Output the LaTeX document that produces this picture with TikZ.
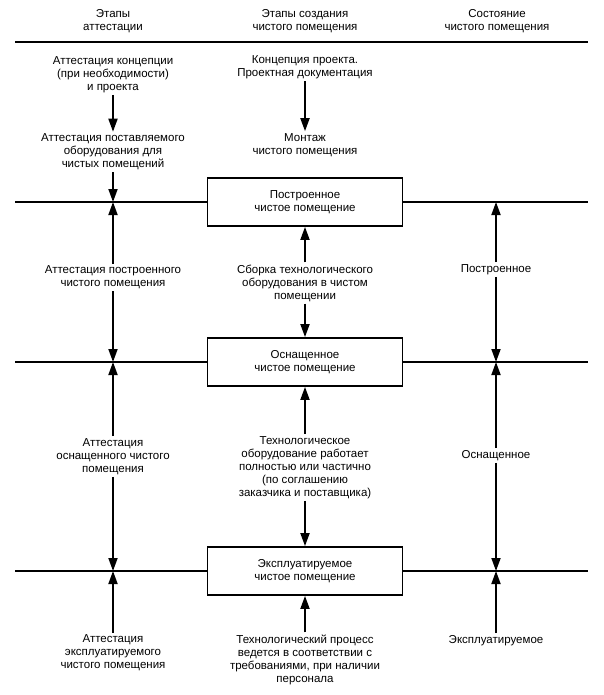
\documentclass[tikz,border=0pt]{standalone}
\usepackage{fontspec}
\setmainfont{Liberation Sans}
\usetikzlibrary{arrows.meta}
\begin{document}
\begin{tikzpicture}[x=1pt,y=-1pt,
  lbl/.style={align=center, font=\fontsize{11.5}{13}\selectfont, inner sep=2pt, yshift=-1.5pt},
  roombox/.style={draw, line width=1.8pt, minimum width=195pt, minimum height=48pt,
    align=center, font=\fontsize{11.5}{13.5}\selectfont, inner sep=0pt},
  arr/.style={line width=1.8pt, -{Triangle[length=13pt,width=9pt]}},
  hline/.style={line width=1.4pt},
  topline/.style={line width=2.2pt}
  ]
\useasboundingbox (0,0) rectangle (603,695);

% headers
\node[lbl] (h1) at (113,19.5) {Этапы\\аттестации};
\node[lbl] (h2) at (305,19.5) {Этапы создания\\чистого помещения};
\node[lbl] (h3) at (497,19.5) {Состояние\\чистого помещения};
\coordinate (t0a) at (15,42);
\coordinate (t0b) at (588,42);
\draw[topline] (t0a) -- (t0b);

% boxes
\node[roombox] (b1) at (305,202) {Построенное\\чистое помещение};
\node[roombox] (b2) at (305,362) {Оснащенное\\чистое помещение};
\node[roombox] (b3) at (305,571) {Эксплуатируемое\\чистое помещение};

% horizontal lines
\coordinate (l1a) at (15,202); \coordinate (l1b) at (588,202);
\coordinate (l2a) at (15,362); \coordinate (l2b) at (588,362);
\coordinate (l3a) at (15,571); \coordinate (l3b) at (588,571);
\draw[hline] (l1a) -- (b1.west); \draw[hline] (b1.east) -- (l1b);
\draw[hline] (l2a) -- (b2.west); \draw[hline] (b2.east) -- (l2b);
\draw[hline] (l3a) -- (b3.west); \draw[hline] (b3.east) -- (l3b);

% crossing points
\coordinate (c1) at (113,202); \coordinate (c2) at (113,362); \coordinate (c3) at (113,571);
\coordinate (c4) at (496,202); \coordinate (c5) at (496,362); \coordinate (c6) at (496,571);

% left column
\node[lbl] (a1) at (113,73) {Аттестация концепции\\(при необходимости)\\и проекта};
\node[lbl] (a2) at (113,150.5) {Аттестация поставляемого\\оборудования для\\чистых помещений};
\node[lbl] (a3) at (113,276) {Аттестация построенного\\чистого помещения};
\node[lbl] (a4) at (113,455) {Аттестация\\оснащенного чистого\\помещения};
\node[lbl] (a5) at (113,651.5) {Аттестация\\эксплуатируемого\\чистого помещения};

\draw[arr] (a1) -- (a2);
\draw[arr] (a2) -- (c1);
\draw[arr] (a3) -- (c1);
\draw[arr] (a3) -- (c2);
\draw[arr] (a4) -- (c2);
\draw[arr] (a4) -- (c3);
\draw[arr] (a5) -- (c3);

% middle column
\node[lbl] (m1) at (305,66) {Концепция проекта.\\Проектная документация};
\node[lbl] (m2) at (305,143.5) {Монтаж\\чистого помещения};
\node[lbl] (m3) at (305,281.5) {Сборка технологического\\оборудования в чистом\\помещении};
\node[lbl] (m4) at (305,466) {Технологическое\\оборудование работает\\полностью или частично\\(по соглашению\\заказчика и поставщика)};
\node[lbl] (m5) at (305,658) {Технологический процесс\\ведется в соответствии с\\требованиями, при наличии\\персонала};

\draw[arr] (m1) -- (m2);
\draw[arr] (m3) -- (b1);
\draw[arr] (m3) -- (b2);
\draw[arr] (m4) -- (b2);
\draw[arr] (m4) -- (b3);
\draw[arr] (m5) -- (b3);

% right column
\node[lbl] (r1) at (496,268) {Построенное};
\node[lbl] (r2) at (496,454) {Оснащенное};
\node[lbl] (r3) at (496,639) {Эксплуатируемое};

\draw[arr] (r1) -- (c4);
\draw[arr] (r1) -- (c5);
\draw[arr] (r2) -- (c5);
\draw[arr] (r2) -- (c6);
\draw[arr] (r3) -- (c6);
\end{tikzpicture}
\end{document}
